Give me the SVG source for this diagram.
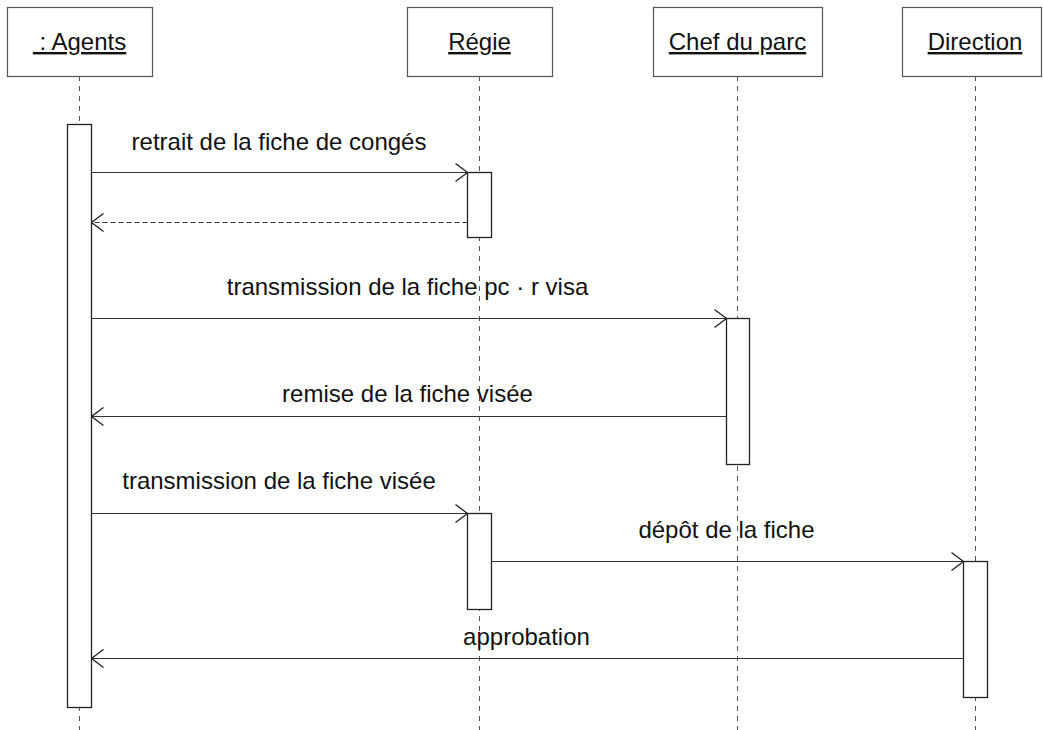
<svg xmlns="http://www.w3.org/2000/svg" width="1043" height="730" viewBox="0 0 1043 730">
<defs>
<marker id="open" viewBox="0 0 14 20" refX="13" refY="10" markerWidth="14" markerHeight="20" markerUnits="userSpaceOnUse" orient="auto">
<path d="M1,1 L13,10 L1,19" fill="none" stroke="#222" stroke-width="1.3"/>
</marker>
</defs>
<style>
.bg{fill:#fff}
.head{fill:#fff;stroke:#555;stroke-width:1.2}
.htxt{font-family:"Liberation Sans",Arial,sans-serif;font-size:24px;fill:#111;text-anchor:middle;text-decoration:underline}
.life{stroke:#555;stroke-width:1;stroke-dasharray:5 5;fill:none}
.act{fill:#fff;stroke:#222;stroke-width:1.3}
.msg{stroke:#333;stroke-width:1.1;fill:none;marker-end:url(#open)}
.ret{stroke:#333;stroke-width:1.1;fill:none;stroke-dasharray:5 3;marker-end:url(#open)}
.lbl{font-family:"Liberation Sans",Arial,sans-serif;font-size:24px;fill:#111;text-anchor:middle}
</style>
<rect class="bg" x="0" y="0" width="1043" height="730"/>
<g id="lifelines">
<line class="life" x1="79.5" y1="76" x2="79.5" y2="730"/>
<line class="life" x1="479.5" y1="76" x2="479.5" y2="730"/>
<line class="life" x1="737.5" y1="76" x2="737.5" y2="730"/>
<line class="life" x1="975.5" y1="76" x2="975.5" y2="730"/>
</g>
<g id="agents">
<rect class="head" x="7.5" y="7.5" width="145" height="69"/>
<text class="htxt" x="79.5" y="50" xml:space="preserve"> : Agents</text>
<rect class="act" x="67.5" y="124.5" width="24" height="583"/>
</g>
<g id="regie">
<rect class="head" x="407.5" y="7.5" width="145" height="69"/>
<text class="htxt" x="479.5" y="50">Régie</text>
<rect class="act" x="467.5" y="172.5" width="24" height="65"/>
<rect class="act" x="467.5" y="513.5" width="24" height="96"/>
</g>
<g id="chef">
<rect class="head" x="653.5" y="7.5" width="169" height="69"/>
<text class="htxt" x="737.5" y="50">Chef du parc</text>
<rect class="act" x="726.5" y="318.5" width="23" height="146"/>
</g>
<g id="direction">
<rect class="head" x="902.5" y="7.5" width="139" height="69"/>
<text class="htxt" x="975" y="50">Direction</text>
<rect class="act" x="963.5" y="561.5" width="24" height="136"/>
</g>
<g id="connectors">
<line class="msg" x1="91.5" y1="172.5" x2="467.5" y2="172.5"/>
<text class="lbl" x="279" y="150">retrait de la fiche de congés</text>
<line class="ret" x1="467.5" y1="222.5" x2="91.5" y2="222.5"/>
<line class="msg" x1="91.5" y1="318.5" x2="726.5" y2="318.5"/>
<text class="lbl" x="407.5" y="295">transmission de la fiche pc · r visa</text>
<line class="msg" x1="726.5" y1="416.5" x2="91.5" y2="416.5"/>
<text class="lbl" x="407.5" y="402">remise de la fiche visée</text>
<line class="msg" x1="91.5" y1="513.5" x2="467.5" y2="513.5"/>
<text class="lbl" x="279" y="489">transmission de la fiche visée</text>
<line class="msg" x1="491.5" y1="561.5" x2="963.5" y2="561.5"/>
<text class="lbl" x="726.5" y="538">dépôt de la fiche</text>
<line class="msg" x1="963.5" y1="658.5" x2="91.5" y2="658.5"/>
<text class="lbl" x="526.5" y="645">approbation</text>
</g>
</svg>
